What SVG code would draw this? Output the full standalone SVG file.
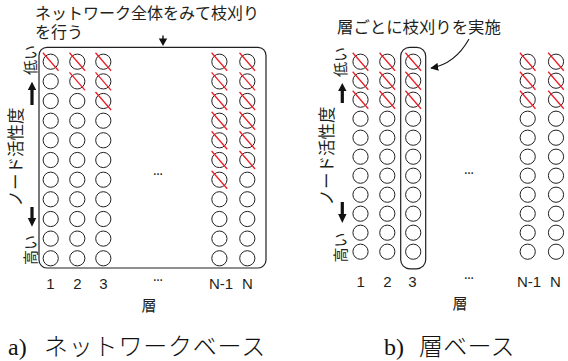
<svg xmlns="http://www.w3.org/2000/svg" xmlns:xlink="http://www.w3.org/1999/xlink" width="568" height="361" viewBox="0 0 568 361">
<style>
.jp{font-family:"Noto Sans CJK JP","Noto Sans",sans-serif;fill:#231f20}
.num{font-family:"Liberation Sans","Noto Sans",sans-serif;font-size:15px;fill:#231f20;text-anchor:middle}
.dots{font-family:"Liberation Sans",sans-serif;font-size:10px;font-weight:bold;fill:#231f20;text-anchor:middle}
.cap{font-family:"Liberation Serif","Noto Sans CJK JP",serif;font-size:24px;font-weight:300;fill:#111}
.frame{fill:none;stroke:#231f20;stroke-width:1.2}
.n{fill:#fff;stroke:#231f20;stroke-width:1}
.cut{stroke:#ee1c25;stroke-width:1.3}
.ar{fill:#111;stroke:none}
</style>
<defs>
<circle id="o" class="n" r="7.6"/>
<g id="x"><circle class="n" r="7.6"/><line class="cut" x1="-7.8" y1="-9" x2="7.8" y2="9"/></g>
<marker id="ah" viewBox="0 0 10 10" refX="9" refY="5" markerWidth="8" markerHeight="8" markerUnits="userSpaceOnUse" orient="auto"><path d="M0,0 L10,5 L0,10 z" fill="#111"/></marker>
</defs>

<!-- Panel a -->
<g id="panel-a">
<rect id="a-frame" class="frame" x="39" y="47.3" width="227" height="220.7" rx="8"/>
<text class="jp" font-size="16"><tspan x="35" y="19.3">ネットワーク全体をみて枝刈り</tspan><tspan x="35" y="38">を行う</tspan></text>
<text class="jp" font-size="15" text-anchor="middle" transform="translate(35.5,60) rotate(-90)">低い</text>
<text class="jp" font-size="15" text-anchor="middle" transform="translate(35.5,250) rotate(-90)">高い</text>
<text class="jp" font-size="16.5" text-anchor="middle" transform="translate(21.5,157) rotate(-90)">ノード活性度</text>

<g id="a-col1">
<use xlink:href="#x" x="50.7" y="61.7"/><use xlink:href="#o" x="50.7" y="81.4"/><use xlink:href="#o" x="50.7" y="101"/><use xlink:href="#o" x="50.7" y="120.7"/><use xlink:href="#o" x="50.7" y="140.3"/><use xlink:href="#o" x="50.7" y="160"/><use xlink:href="#o" x="50.7" y="179.7"/><use xlink:href="#o" x="50.7" y="199.3"/><use xlink:href="#o" x="50.7" y="219"/><use xlink:href="#o" x="50.7" y="238.6"/><use xlink:href="#o" x="50.7" y="258.3"/>
</g>
<g id="a-col2">
<use xlink:href="#x" x="77.3" y="61.7"/><use xlink:href="#x" x="77.3" y="81.4"/><use xlink:href="#o" x="77.3" y="101"/><use xlink:href="#o" x="77.3" y="120.7"/><use xlink:href="#o" x="77.3" y="140.3"/><use xlink:href="#o" x="77.3" y="160"/><use xlink:href="#o" x="77.3" y="179.7"/><use xlink:href="#o" x="77.3" y="199.3"/><use xlink:href="#o" x="77.3" y="219"/><use xlink:href="#o" x="77.3" y="238.6"/><use xlink:href="#o" x="77.3" y="258.3"/>
</g>
<g id="a-col3">
<use xlink:href="#x" x="103.3" y="61.7"/><use xlink:href="#x" x="103.3" y="81.4"/><use xlink:href="#x" x="103.3" y="101"/><use xlink:href="#o" x="103.3" y="120.7"/><use xlink:href="#o" x="103.3" y="140.3"/><use xlink:href="#o" x="103.3" y="160"/><use xlink:href="#o" x="103.3" y="179.7"/><use xlink:href="#o" x="103.3" y="199.3"/><use xlink:href="#o" x="103.3" y="219"/><use xlink:href="#o" x="103.3" y="238.6"/><use xlink:href="#o" x="103.3" y="258.3"/>
</g>
<g id="a-colN1">
<use xlink:href="#x" x="219.4" y="61.7"/><use xlink:href="#x" x="219.4" y="81.4"/><use xlink:href="#x" x="219.4" y="101"/><use xlink:href="#x" x="219.4" y="120.7"/><use xlink:href="#x" x="219.4" y="140.3"/><use xlink:href="#x" x="219.4" y="160"/><use xlink:href="#x" x="219.4" y="179.7"/><use xlink:href="#o" x="219.4" y="199.3"/><use xlink:href="#o" x="219.4" y="219"/><use xlink:href="#o" x="219.4" y="238.6"/><use xlink:href="#o" x="219.4" y="258.3"/>
</g>
<g id="a-colN">
<use xlink:href="#x" x="247.3" y="61.7"/><use xlink:href="#x" x="247.3" y="81.4"/><use xlink:href="#x" x="247.3" y="101"/><use xlink:href="#x" x="247.3" y="120.7"/><use xlink:href="#x" x="247.3" y="140.3"/><use xlink:href="#x" x="247.3" y="160"/><use xlink:href="#o" x="247.3" y="179.7"/><use xlink:href="#o" x="247.3" y="199.3"/><use xlink:href="#o" x="247.3" y="219"/><use xlink:href="#o" x="247.3" y="238.6"/><use xlink:href="#o" x="247.3" y="258.3"/>
</g>
<text class="dots" x="158" y="175">…</text>
<text class="num" x="50.5" y="289">1</text>
<text class="num" x="77.3" y="289">2</text>
<text class="num" x="103.3" y="289">3</text>
<text class="dots" x="158" y="281">…</text>
<text class="num" x="221" y="289">N-1</text>
<text class="num" x="247.5" y="289">N</text>
<text class="jp" x="149" y="310.5" font-size="15" text-anchor="middle">層</text>
<text class="cap" x="8" y="355">a) <tspan x="44" letter-spacing="0.8">ネットワークベース</tspan></text>
</g>

<!-- Panel b -->
<g id="panel-b">
<rect id="b-frame" class="frame" x="400.7" y="47.3" width="25" height="221.5" rx="9"/>
<text class="jp" x="337" y="33.4" font-size="16.4">層ごとに枝刈りを実施</text>
<text class="jp" font-size="15" text-anchor="middle" transform="translate(346,62) rotate(-90)">低い</text>
<text class="jp" font-size="15" text-anchor="middle" transform="translate(346,247.5) rotate(-90)">高い</text>
<text class="jp" font-size="16.5" text-anchor="middle" transform="translate(332.5,156) rotate(-90)">ノード活性度</text>

<g id="b-col1">
<use xlink:href="#x" x="360.5" y="61.7"/><use xlink:href="#x" x="360.5" y="80.7"/><use xlink:href="#x" x="360.5" y="99.7"/><use xlink:href="#o" x="360.5" y="118.7"/><use xlink:href="#o" x="360.5" y="137.7"/><use xlink:href="#o" x="360.5" y="156.7"/><use xlink:href="#o" x="360.5" y="175.7"/><use xlink:href="#o" x="360.5" y="194.7"/><use xlink:href="#o" x="360.5" y="213.7"/><use xlink:href="#o" x="360.5" y="232.7"/><use xlink:href="#o" x="360.5" y="251.7"/>
</g>
<g id="b-col2">
<use xlink:href="#x" x="387.3" y="61.7"/><use xlink:href="#x" x="387.3" y="80.7"/><use xlink:href="#x" x="387.3" y="99.7"/><use xlink:href="#o" x="387.3" y="118.7"/><use xlink:href="#o" x="387.3" y="137.7"/><use xlink:href="#o" x="387.3" y="156.7"/><use xlink:href="#o" x="387.3" y="175.7"/><use xlink:href="#o" x="387.3" y="194.7"/><use xlink:href="#o" x="387.3" y="213.7"/><use xlink:href="#o" x="387.3" y="232.7"/><use xlink:href="#o" x="387.3" y="251.7"/>
</g>
<g id="b-col3">
<use xlink:href="#x" x="413.2" y="61.7"/><use xlink:href="#x" x="413.2" y="80.7"/><use xlink:href="#x" x="413.2" y="99.7"/><use xlink:href="#o" x="413.2" y="118.7"/><use xlink:href="#o" x="413.2" y="137.7"/><use xlink:href="#o" x="413.2" y="156.7"/><use xlink:href="#o" x="413.2" y="175.7"/><use xlink:href="#o" x="413.2" y="194.7"/><use xlink:href="#o" x="413.2" y="213.7"/><use xlink:href="#o" x="413.2" y="232.7"/><use xlink:href="#o" x="413.2" y="251.7"/>
</g>
<g id="b-colN1">
<use xlink:href="#x" x="527.7" y="61.7"/><use xlink:href="#x" x="527.7" y="80.7"/><use xlink:href="#x" x="527.7" y="99.7"/><use xlink:href="#o" x="527.7" y="118.7"/><use xlink:href="#o" x="527.7" y="137.7"/><use xlink:href="#o" x="527.7" y="156.7"/><use xlink:href="#o" x="527.7" y="175.7"/><use xlink:href="#o" x="527.7" y="194.7"/><use xlink:href="#o" x="527.7" y="213.7"/><use xlink:href="#o" x="527.7" y="232.7"/><use xlink:href="#o" x="527.7" y="251.7"/>
</g>
<g id="b-colN">
<use xlink:href="#x" x="556" y="61.7"/><use xlink:href="#x" x="556" y="80.7"/><use xlink:href="#x" x="556" y="99.7"/><use xlink:href="#o" x="556" y="118.7"/><use xlink:href="#o" x="556" y="137.7"/><use xlink:href="#o" x="556" y="156.7"/><use xlink:href="#o" x="556" y="175.7"/><use xlink:href="#o" x="556" y="194.7"/><use xlink:href="#o" x="556" y="213.7"/><use xlink:href="#o" x="556" y="232.7"/><use xlink:href="#o" x="556" y="251.7"/>
</g>
<text class="dots" x="469" y="174">…</text>
<text class="num" x="360.7" y="287">1</text>
<text class="num" x="387.3" y="287">2</text>
<text class="num" x="412.5" y="287">3</text>
<text class="dots" x="469" y="278.5">…</text>
<text class="num" x="529" y="287">N-1</text>
<text class="num" x="555.5" y="287">N</text>
<text class="jp" x="460" y="309" font-size="15" text-anchor="middle">層</text>
<text class="cap" x="384" y="355">b) <tspan x="419" letter-spacing="0.2">層ベース</tspan></text>
</g>

<!-- Connectors / arrows -->
<g id="connectors">
<path class="ar" d="M30.4,105 V90 H27.8 L32,81.7 L36.2,90 H33.6 V105 z"/>
<path class="ar" d="M30.4,207 V218 H27.8 L32,226.7 L36.2,218 H33.6 V207 z"/>
<path class="ar" d="M340.7,103 V91 H338.1 L342.3,83 L346.5,91 H343.9 V103 z"/>
<path class="ar" d="M340.7,202 V214 H338.1 L342.3,223 L346.5,214 H343.9 V202 z"/>
<path class="ar" d="M162.3,35.5 V38.5 H158.8 L163,46 L167.2,38.5 H163.7 V35.5 z"/>
<path d="M469,39 Q455,64 431,68" fill="none" stroke="#111" stroke-width="1.1" marker-end="url(#ah)"/>
</g>
</svg>
